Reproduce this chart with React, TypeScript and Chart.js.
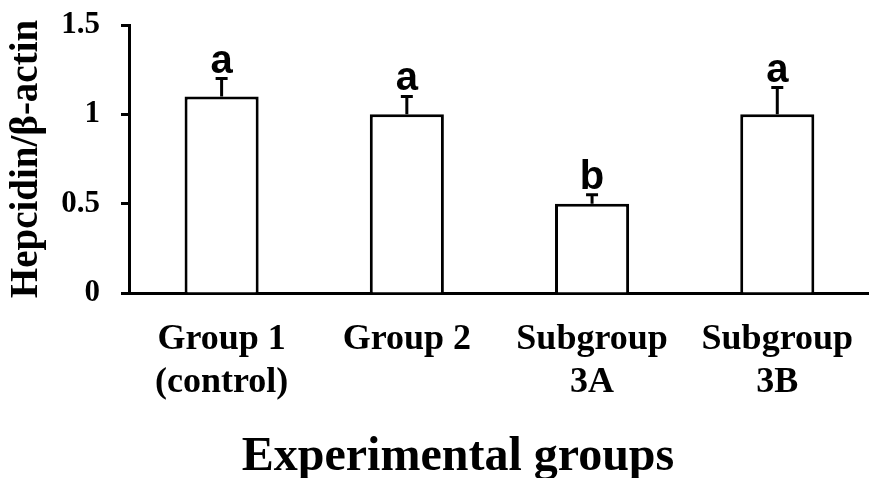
import { useEffect, useRef } from "react";
import { Chart, registerables } from "chart.js";

Chart.register(...registerables);

const categories: string[][] = [
  ["Group 1", "(control)"],
  ["Group 2"],
  ["Subgroup", "3A"],
  ["Subgroup", "3B"],
];
const means = [1.1, 1.0, 0.5, 1.0];
const errors = [0.1, 0.1, 0.05, 0.15];
const letters = ["a", "a", "b", "a"];
const yTicks = [0, 0.5, 1, 1.5];
const yTitle = "Hepcidin/β-actin";
const xTitle = "Experimental groups";

const SERIF = '"Liberation Serif", "Times New Roman", serif';
const SANS = '"Liberation Sans", Arial, sans-serif';

const annotatePlugin = {
  id: "annotate",
  afterDatasetsDraw(chart: any) {
    const { ctx } = chart;
    const y = chart.scales.y;
    const meta = chart.getDatasetMeta(0);
    ctx.save();
    meta.data.forEach((bar: any, i: number) => {
      const x = bar.x;
      const top = y.getPixelForValue(means[i]);
      const tip = y.getPixelForValue(means[i] + errors[i]);
      ctx.strokeStyle = "#000";
      ctx.lineWidth = 3;
      ctx.beginPath();
      ctx.moveTo(x, top);
      ctx.lineTo(x, tip);
      ctx.moveTo(x - 6, tip);
      ctx.lineTo(x + 6, tip);
      ctx.stroke();
      ctx.fillStyle = "#000";
      ctx.font = `bold 40px ${SANS}`;
      ctx.textAlign = "center";
      ctx.textBaseline = "alphabetic";
      ctx.fillText(letters[i], x, tip - 6);
    });
    ctx.font = `bold 48px ${SERIF}`;
    ctx.textAlign = "center";
    ctx.textBaseline = "alphabetic";
    ctx.fillStyle = "#000";
    ctx.fillText(xTitle, 458, 470);
    ctx.restore();
  },
};

export default function App() {
  const ref = useRef<HTMLCanvasElement | null>(null);
  useEffect(() => {
    if (!ref.current) return;
    const chart = new Chart(ref.current, {
      type: "bar",
      data: {
        labels: categories,
        datasets: [
          {
            data: means,
            backgroundColor: "#ffffff",
            borderColor: "#000000",
            borderWidth: 3,
            barPercentage: 0.4,
            categoryPercentage: 1,
          },
        ],
      },
      options: {
        responsive: false,
        animation: false,
        devicePixelRatio: 1,
        layout: { padding: { top: 25, right: 0, bottom: 0, left: 0 } },
        plugins: {
          legend: { display: false },
          tooltip: { enabled: false },
          title: { display: false },
        },
        scales: {
          x: {
            grid: { display: true, drawOnChartArea: false, drawTicks: false },
            border: { display: true, color: "#000", width: 3 },
            ticks: {
              color: "#000",
              padding: 25,
              maxRotation: 0,
              autoSkip: false,
              font: { family: SERIF, size: 36, weight: "bold", lineHeight: 1.2 },
            },
            afterFit: (scale: any) => {
              scale.height = 185;
            },
          },
          y: {
            min: 0,
            max: 1.5,
            afterBuildTicks: (scale: any) => {
              scale.ticks = yTicks.map((v) => ({ value: v }));
            },
            grid: {
              display: true,
              drawOnChartArea: false,
              drawTicks: true,
              tickLength: 8,
              tickWidth: 3,
              tickColor: "#000",
            },
            border: { display: true, color: "#000", width: 3 },
            ticks: {
              color: "#000",
              padding: 21,
              font: { family: SERIF, size: 31, weight: "bold" },
              callback: (v: any) => String(v),
            },
            title: {
              display: true,
              text: yTitle,
              color: "#000",
              font: { family: SERIF, size: 39, weight: "bold", lineHeight: 1.2 },
              padding: { top: 4, bottom: 0 },
            },
            afterFit: (scale: any) => {
              scale.width = 129;
              scale.paddingTop = 0;
              scale.paddingBottom = 0;
            },
          },
        },
      },
      plugins: [annotatePlugin],
    });
    return () => chart.destroy();
  }, []);

  return (
    <div
      style={{
        position: "fixed",
        left: 0,
        top: 0,
        width: 878,
        height: 478,
        background: "#fff",
      }}
    >
      <canvas ref={ref} width={878} height={478} style={{ display: "block" }} />
    </div>
  );
}
